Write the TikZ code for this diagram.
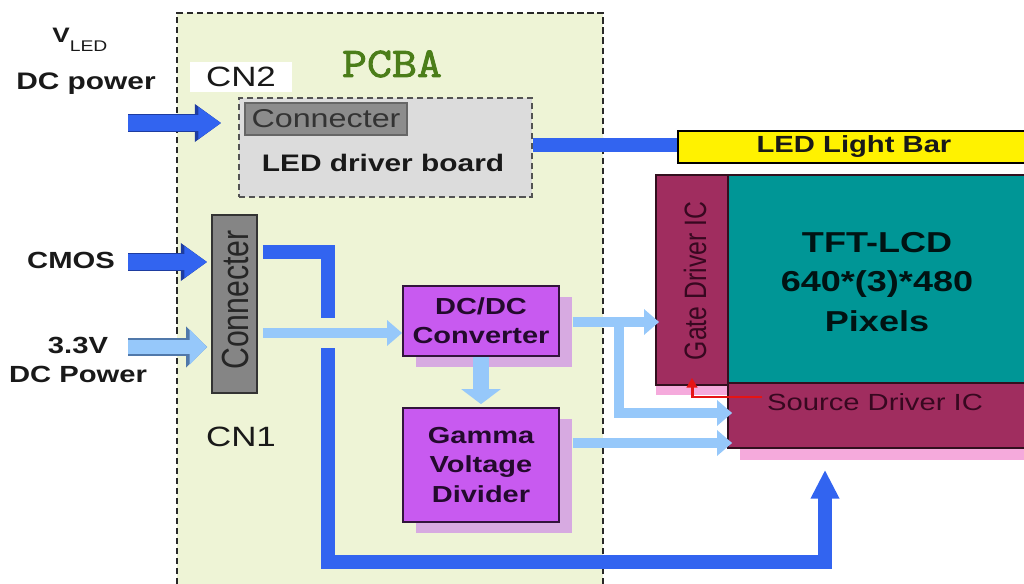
\documentclass[tikz,border=0pt]{standalone}
\usepackage{fontspec}
\setmainfont{Liberation Sans}
\newfontfamily\wide[FakeStretch=1.25]{Liberation Sans}
\newfontfamily\narrow[FakeStretch=0.8]{Liberation Sans}
\newfontfamily\courierish[FakeBold=2.2,FakeStretch=1.15]{Latin Modern Mono}
\usetikzlibrary{arrows.meta,shadows,calc}
\definecolor{pcbafill}{RGB}{238,244,214}
\definecolor{pcbaedge}{RGB}{40,40,40}
\definecolor{darkblue}{RGB}{50,100,240}
\definecolor{darkblueedge}{RGB}{30,60,160}
\definecolor{lightblue}{RGB}{150,200,250}
\definecolor{lightblueedge}{RGB}{80,120,170}
\definecolor{violetbox}{RGB}{200,90,240}
\definecolor{violetshadow}{RGB}{215,170,225}
\definecolor{violetedge}{RGB}{50,20,60}
\definecolor{maroonic}{RGB}{160,45,95}
\definecolor{maroonedge}{RGB}{50,15,30}
\definecolor{tealpanel}{RGB}{0,150,150}
\definecolor{pinkshadow}{RGB}{245,170,220}
\definecolor{pcbagreen}{RGB}{75,125,25}
\definecolor{boardgrey}{RGB}{220,220,220}
\definecolor{conngrey}{RGB}{140,140,140}
\definecolor{redline}{RGB}{230,20,20}
\definecolor{ictext}{RGB}{55,8,32}
\definecolor{boxtext}{RGB}{35,10,45}
\definecolor{inktext}{RGB}{25,25,25}
\begin{document}
\begin{tikzpicture}[x=0.02cm,y=-0.02cm,
  lbl/.style={font=\wide\bfseries\fontsize{13.3pt}{17pt}\selectfont, text=inktext, align=center, inner sep=0pt},
  pcbadash/.style={draw=pcbaedge, line width=1.1pt, dash pattern=on 3.5pt off 2.2pt},
  boardbox/.style={draw=pcbaedge!80, line width=1pt, dash pattern=on 3.5pt off 2.2pt, fill=boardgrey, minimum width=5.86cm, minimum height=1.98cm, inner sep=0pt},
  connbox/.style={draw=black!60, line width=0.8pt, fill=conngrey, inner sep=0pt},
  icbox/.style={draw=maroonedge, line width=1pt, fill=maroonic, inner sep=0pt},
  procbox/.style={draw=violetedge, line width=1pt, fill=violetbox, minimum width=3.12cm, inner sep=0pt, align=center,
    font=\wide\bfseries\fontsize{13.2pt}{16.6pt}\selectfont, text=boxtext,
    drop shadow={shadow xshift=0.26cm, shadow yshift=-0.22cm, fill=violetshadow, opacity=1}},
  darkline/.style={draw=darkblue, line width=8.5pt, line cap=butt, line join=miter},
  darktip/.style={-{Triangle[length=16.4pt,width=15.3pt]}},
  lightline/.style={draw=lightblue, line width=5.8pt, line cap=butt, line join=miter, -{Triangle[length=8.5pt,width=14pt]}},
  lightfat/.style={draw=lightblue, line width=9pt, line cap=butt, -{Triangle[length=8.5pt,width=22pt]}},
  blockdark/.style={preaction={draw=darkblueedge, line width=10.4pt, -{Triangle[length=15pt,width=20.6pt]}},
    draw=darkblue, line width=8.8pt, -{Triangle[length=13pt,width=17.4pt]}},
  blocklight/.style={preaction={draw=lightblueedge, line width=10pt, -{Triangle[length=12pt,width=22.6pt]}},
    draw=lightblue, line width=8.4pt, -{Triangle[length=10pt,width=19.6pt]}},
  redarrow/.style={draw=redline, line width=1.7pt, -{Triangle[length=5.5pt,width=6pt]}}
]
\useasboundingbox (0,0) rectangle (1024,584);
% PCBA area
\fill[pcbafill] (177,13) rectangle (603,584);
\draw[pcbadash] (177,584) -- (177,13) -- (603,13) -- (603,584);
\node[font=\courierish\fontsize{24pt}{24pt}\selectfont, text=pcbagreen, inner sep=0pt] (pcba) at (392,64) {PCBA};

% left labels
\node[anchor=base west, inner sep=0pt, text=inktext] (vled) at (52,43)
  {\wide\bfseries\fontsize{11.9pt}{12pt}\selectfont V\raisebox{-5pt}{\wide\mdseries\fontsize{8.8pt}{9pt}\selectfont LED}};
\node[lbl, anchor=base, font=\wide\bfseries\fontsize{13.6pt}{16pt}\selectfont] (dcpow) at (86,90) {DC power};
\node[lbl] (cmos) at (71,260) {CMOS};
\node[lbl] (v33) at (78,360) {3.3V\\DC Power};

% CN2 and LED driver board
\node[fill=white, minimum width=2.04cm, minimum height=0.6cm, inner sep=0pt,
  font=\wide\fontsize{15.9pt}{16pt}\selectfont, text=inktext] (cn2) at (241,77) {CN2};
\node[boardbox] (ledbd) at (385.5,147.5) {};
\node[connbox, minimum width=3.24cm, minimum height=0.64cm,
  font=\wide\fontsize{14.7pt}{15pt}\selectfont, text=black!80] (conn2) at (326,119) {Connecter};
\node[anchor=base, inner sep=0pt, font=\wide\bfseries\fontsize{13.6pt}{14pt}\selectfont, text=inktext] (ledtxt) at (383,172) {LED driver board};

% LED light bar
\node[draw=black, line width=1.1pt, fill=yellow, minimum width=7.04cm, minimum height=0.64cm, inner sep=0pt,
  font=\wide\bfseries\fontsize{13.3pt}{14pt}\selectfont, text=inktext] (ledbar) at (854,147) {LED Light Bar};

% TFT panel
\fill[pinkshadow] (740,448) rectangle (1030,460);
\fill[pinkshadow] (656,385) rectangle (728,395);
\node[icbox, minimum width=1.44cm, minimum height=4.2cm] (gate) at (692,280) {};
\node[rotate=90, inner sep=0pt, font=\narrow\fontsize{17.6pt}{18pt}\selectfont, text=ictext] (gatetxt) at (695,281) {Gate Driver IC};
\node[draw=maroonedge, line width=1pt, fill=tealpanel, minimum width=6.04cm, minimum height=4.16cm, inner sep=0pt] (tft) at (879,279) {};
\node[align=center, inner sep=0pt, font=\wide\bfseries\fontsize{16.4pt}{22.7pt}\selectfont, text=black!85!teal] (tfttxt) at (877,282) {TFT-LCD\\640*(3)*480\\Pixels};
\node[icbox, minimum width=6.04cm, minimum height=1.3cm] (source) at (879,415.5) {};
\node[inner sep=0pt, font=\wide\fontsize{13.3pt}{14pt}\selectfont, text=ictext] (srctxt) at (875,402) {Source Driver IC};

% CN1
\node[draw=black!80, line width=1pt, fill=conngrey!95!black, minimum width=0.9cm, minimum height=3.56cm, inner sep=0pt] (cn1) at (234.5,304) {};
\node[rotate=90, inner sep=0pt, font=\narrow\fontsize{21.5pt}{22pt}\selectfont, text=black!85] (cn1txt) at (235,300) {Connecter};
\node[inner sep=0pt, font=\wide\fontsize{15.9pt}{16pt}\selectfont, text=inktext] (cn1lbl) at (241,437) {CN1};

% processing boxes
\node[procbox, minimum height=1.4cm] (dcdc) at (481,321) {DC/DC\\Converter};
\node[procbox, minimum height=2.28cm] (gamma) at (481,465) {Gamma\\Voltage\\Divider};

% coordinates
\coordinate (vin) at (128,123);
\coordinate (cmosin) at (128,262);
\coordinate (pin) at (128,347);
\coordinate (cmosout) at (262,252);
\coordinate (gapT) at (328,318);
\coordinate (gapB) at (328,348);
\coordinate (bend) at (825,562);
\coordinate (pwr) at (0,333);
\coordinate (g1) at (0,322);
\coordinate (br) at (619,322);
\coordinate (s1) at (0,413);
\coordinate (g2) at (0,443);
\coordinate (rs) at (762,397);
\coordinate (lb) at (0,145);

% input arrows
\draw[blockdark, shorten >=0.34cm] (vin) -- (vin -| ledbd.west);
\draw[blockdark, shorten >=0.08cm] (cmosin) -- (cmosin -| cn1.west);
\draw[blocklight, shorten >=0.08cm] (pin) -- (pin -| cn1.west);

% LED driver to light bar
\draw[draw=darkblue, line width=7.8pt] (ledbd.east |- lb) -- (ledbar.west |- lb);

% CMOS data path
\draw[darkline, shorten <=0.1cm] (cn1.east |- cmosout) -| (gapT);
\draw[darkline, darktip, shorten >=0.42cm] (gapB) |- (bend) -- (bend |- source.south);

% power paths
\draw[lightline, shorten <=0.1cm] (cn1.east |- pwr) -- (dcdc.west |- pwr);
\draw[lightfat, shorten >=0.06cm] (dcdc.south) -- (gamma.north);
\draw[lightline, shorten <=0.26cm, shorten >=-0.08cm] (dcdc.east |- g1) -- (gate.west |- g1);
\draw[lightline, shorten >=-0.1cm] (br) |- (source.west |- s1);
\draw[lightline, shorten <=0.26cm, shorten >=-0.1cm] (gamma.east |- g2) -- (source.west |- g2);

% red link
\draw[redarrow, shorten >=-0.16cm] (rs) -| (gate.south);
\end{tikzpicture}
\end{document}
